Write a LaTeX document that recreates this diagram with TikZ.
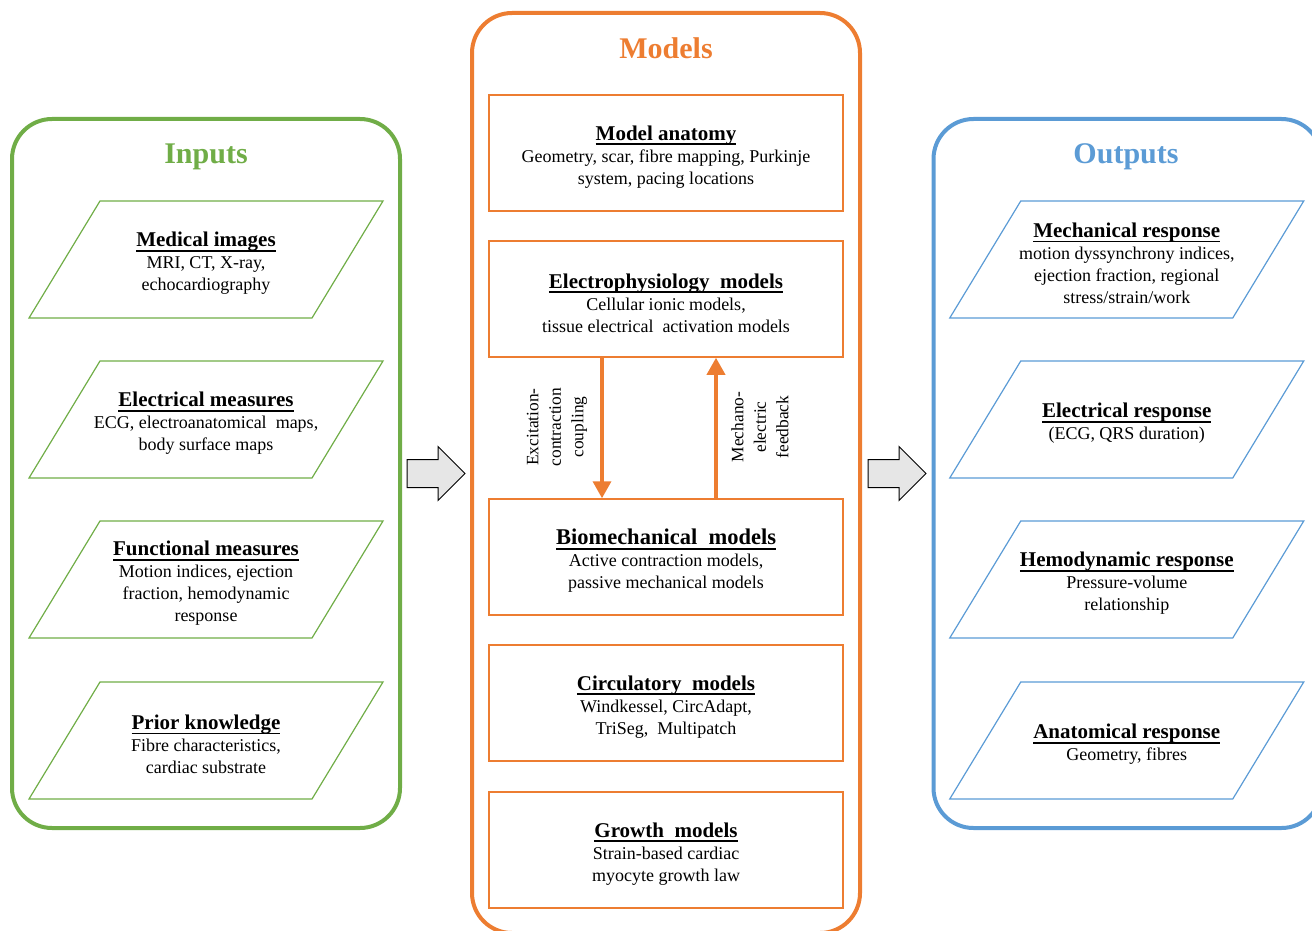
\documentclass[tikz,border=0pt]{standalone}
\usepackage{fontspec}
\setmainfont{Liberation Serif}
\usetikzlibrary{arrows.meta,positioning,shapes.geometric,shapes.arrows}
\definecolor{ingreen}{HTML}{70AD47}
\definecolor{modorange}{HTML}{ED7D31}
\definecolor{outblue}{HTML}{5B9BD5}
\definecolor{arrowgray}{HTML}{E6E6E6}
% bold heading with a close underline
\newcommand{\hd}[2][21]{{\fontsize{#1}{22}\selectfont\bfseries\setbox0\hbox{#2}\rlap{\rule[-4.7pt]{\wd0}{1.7pt}}\box0}}

\begin{document}
\begin{tikzpicture}[x=1pt, y=-1pt,
  container/.style={draw, rounded corners=40pt, line width=4pt, minimum width=388pt},
  title/.style={anchor=base, font=\fontsize{30}{32}\selectfont\bfseries},
  para/.style={trapezium, trapezium left angle=58.75, trapezium right angle=121.25, inner xsep=106pt, inner ysep=58.5pt, line width=1.2pt},
  boxtext/.style={align=center, font=\fontsize{18}{22}\selectfont, inner sep=0pt, yshift=-4pt},
  txt/.style={label={[boxtext]center:{#1}}},
  modbox/.style={draw=modorange, line width=1.5pt, minimum width=354pt, minimum height=116pt},
  couple/.style={draw=modorange, line width=3.5pt, -{Triangle[width=18pt,length=17pt]}},
  sidetext/.style={rotate=90, align=center, font=\fontsize{17.4}{22.5}\selectfont},
  bigarrow/.style={single arrow, draw, fill=arrowgray, line width=1pt, minimum height=58pt, inner xsep=0pt, inner ysep=13.5pt, single arrow head extend=13pt, single arrow tip angle=90}]
\useasboundingbox (0,0) rectangle (1312,931);
% the three columns
\node[container, draw=ingreen, minimum height=709pt] (inputs) at (206,473.5) {};
\node[container, draw=modorange, minimum height=920pt] (models) at (666,473) {};
\node[container, draw=outblue, minimum height=709pt] (outputs) at (1127.5,473.5) {};
\node[title, text=ingreen] (intitle) at (206,164) {Inputs};
\node[title, text=modorange] (modtitle) at (666,59) {Models};
\node[title, text=outblue] (outtitle) at (1126,164) {Outputs};
% inputs
\begin{scope}[every node/.style={para, draw=ingreen}]
\node[txt={\hd{Medical images}\\MRI, CT, X-ray,\\echocardiography}] (med) at (206,259.5) {};
\node[txt={\hd{Electrical measures}\\ECG, electroanatomical\ \ maps,\\body surface maps}] (elec) at (206,419.5) {};
\node[txt={\hd{Functional measures}\\Motion indices, ejection\\fraction, hemodynamic\\response}] (func) at (206,579.5) {};
\node[txt={\hd{Prior knowledge}\\Fibre characteristics,\\cardiac substrate}] (prior) at (206,740.5) {};
\end{scope}
% models
\node[modbox, txt={\hd{Model anatomy}\\Geometry, scar, fibre mapping, Purkinje\\system, pacing locations}] (anat) at (666,153) {};
\node[modbox, txt={\hd{Electrophysiology\ \ models}\\Cellular ionic models,\\tissue electrical\ \ activation models}] (ep) at (666,299) {};
\node[modbox, txt={\hd[22.5]{Biomechanical\ \ models}\\Active contraction models,\\passive mechanical models}] (bio) at (666,557) {};
\node[modbox, txt={\hd{Circulatory\ \ models}\\Windkessel, CircAdapt,\\TriSeg,\ \ Multipatch}] (circ) at (666,703) {};
\node[modbox, txt={\hd{Growth\ \ models}\\Strain-based cardiac\\myocyte growth law}] (growth) at (666,850) {};
\draw[couple] ([xshift=-64pt]ep.south) -- ([xshift=-64pt]bio.north);
\draw[couple] ([xshift=50pt]bio.north) -- ([xshift=50pt]ep.south);
\node[sidetext] (ecc) at (557,427) {Excitation-\\contraction\\coupling};
\node[sidetext] (mef) at (760,427) {Mechano-\\electric\\feedback};
% outputs
\begin{scope}[every node/.style={para, draw=outblue}]
\node[txt={\hd{Mechanical response}\\motion dyssynchrony indices,\\ejection fraction, regional\\stress/strain/work}] (mech) at (1126.75,259.5) {};
\node[txt={\hd{Electrical response}\\(ECG, QRS duration)}] (eresp) at (1126.75,419.5) {};
\node[txt={\hd{Hemodynamic response}\\Pressure-volume\\relationship}] (hemo) at (1126.75,579.5) {};
\node[txt={\hd{Anatomical response}\\Geometry, fibres}] (anresp) at (1126.75,740.5) {};
\end{scope}
% block arrows
\node[bigarrow] (toModels) at (429,473.5) {};
\node[bigarrow] (toOutputs) at (890,473.5) {};
\end{tikzpicture}
\end{document}
